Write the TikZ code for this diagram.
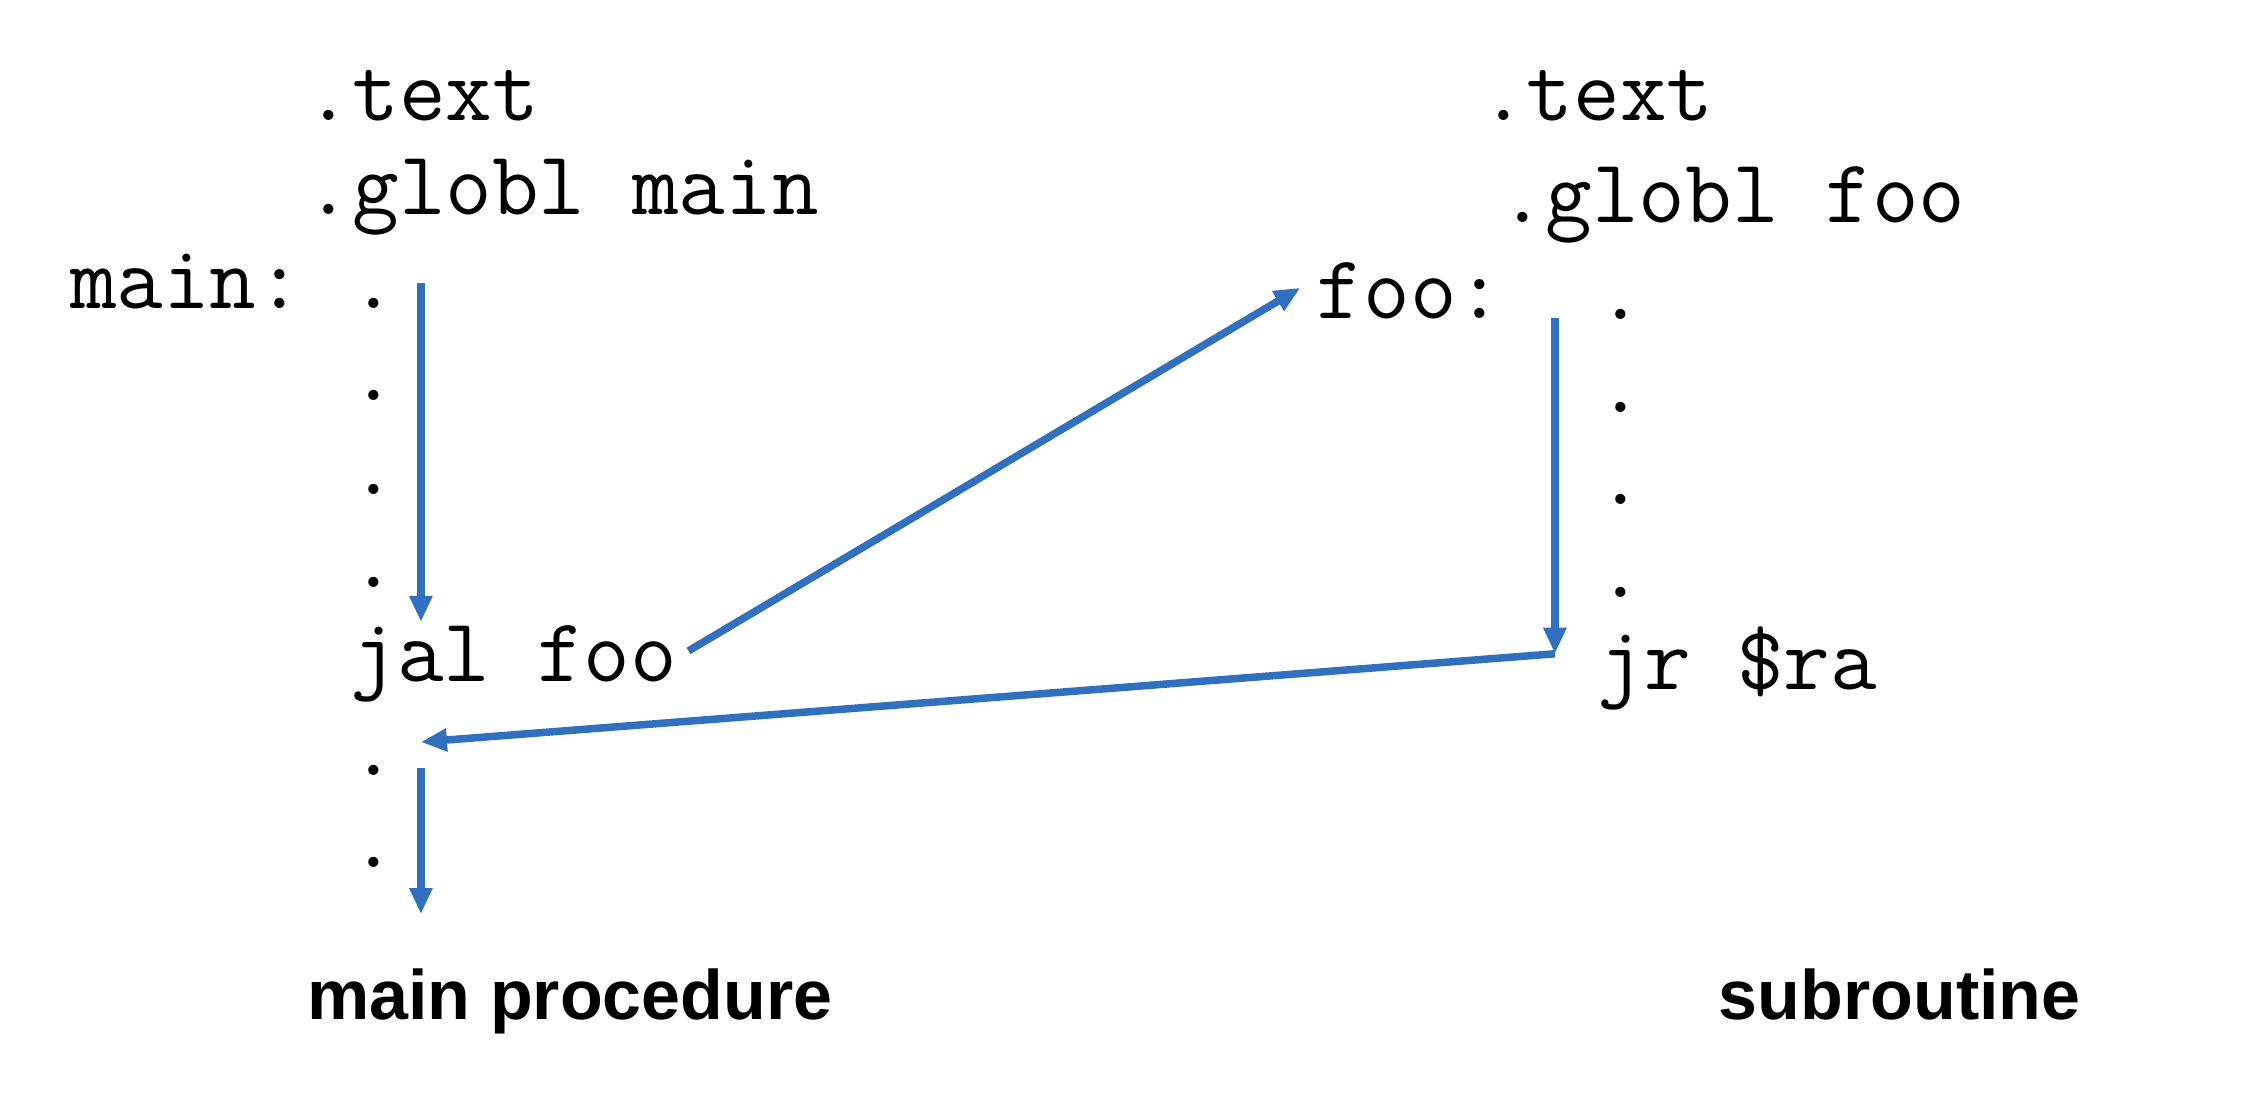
\documentclass[tikz,border=0pt]{standalone}
\usepackage{fontspec}
\newfontfamily\labelfont{Liberation Sans}
\usetikzlibrary{arrows.meta}
\definecolor{flowblue}{RGB}{48,112,190}

\begin{document}
\begin{tikzpicture}[x=0.5pt, y=-0.5pt, >={Triangle[length=9pt,width=7.5pt]},
  code/.style={anchor=base west, inner sep=0pt, font=\ttfamily\fontsize{31.3}{35}\selectfont},
  caption/.style={anchor=base west, inner sep=0pt, font=\labelfont\bfseries\fontsize{24.2}{28}\selectfont},
  flow/.style={->, draw=flowblue, line width=2.6pt}]
\useasboundingbox (0,0) rectangle (1568,758);
% main procedure
\node[code] (1) at (211, 83) {.text};
\node[code] (2) at (211, 148) {.globl main};
\node[code] (3) at (48, 213) {main:};
\node[code] (4) at (242, 213) {.};
\node[code] (5) at (242, 277) {.};
\node[code] (6) at (242, 342) {.};
\node[code] (7) at (242, 406) {.};
\node[code] (8) at (242, 471) {jal foo};
\node[code] (9) at (242, 536) {.};
\node[code] (10) at (242, 600) {.};
\node[caption] (11) at (212, 705) {main procedure};
% subroutine
\node[code] (12) at (1023, 83) {.text};
\node[code] (13) at (1036, 154) {.globl foo};
\node[code] (14) at (910, 220) {foo:};
\node[code] (15) at (1104, 221) {.};
\node[code] (16) at (1104, 285) {.};
\node[code] (17) at (1104, 349) {.};
\node[code] (18) at (1104, 413) {.};
\node[code] (19) at (1104, 477) {jr \$ra};
\node[caption] (20) at (1188, 705) {subroutine};
% control flow
\coordinate (m1) at (291, 196);
\coordinate (m2) at (291, 430);
\coordinate (call) at (476, 450);
\coordinate (entry) at (899, 199);
\coordinate (s1) at (1075, 220);
\coordinate (s2) at (1075, 452);
\coordinate (back) at (291, 513);
\coordinate (m3) at (291, 531);
\coordinate (m4) at (291, 632);
  \draw[flow] (m1)--(m2);
  \draw[flow] (call)--(entry);
  \draw[flow] (s1)--(s2);
  \draw[flow] (s2)--(back);
  \draw[flow] (m3)--(m4);
\end{tikzpicture}
\end{document}
